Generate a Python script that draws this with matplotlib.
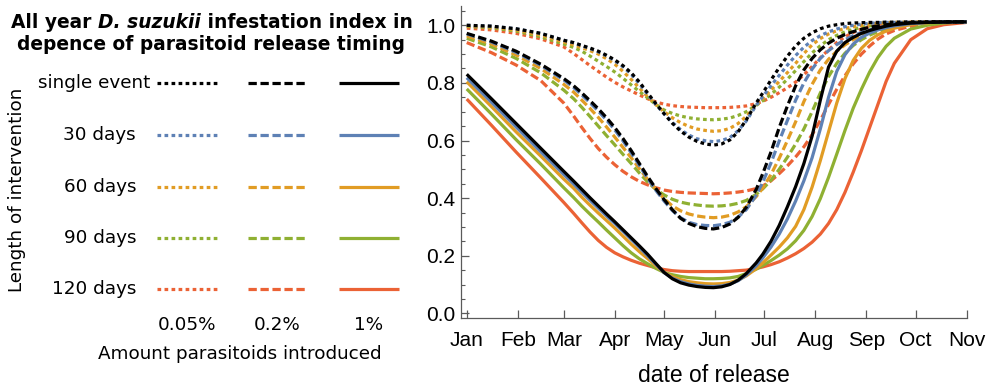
import matplotlib
matplotlib.use('Agg')
import matplotlib.pyplot as plt
from matplotlib.lines import Line2D

# ---------------- data ----------------
days = [0, 15, 30, 45, 59, 65, 70, 75, 80, 85, 90, 95, 100, 105, 110, 115, 120, 125, 130, 135,
        140, 145, 150, 155, 160, 165, 170, 176, 180, 185, 190, 195, 200, 205, 210, 215, 220, 225,
        230, 235, 240, 245, 250, 255, 260, 270, 280, 290, 304]

month_ticks = [0, 31, 59, 90, 120, 151, 181, 212, 243, 273, 304]
month_labels = ['Jan', 'Feb', 'Mar', 'Apr', 'May', 'Jun', 'Jul', 'Aug', 'Sep', 'Oct', 'Nov']

lengths = ['single event', '30 days', '60 days', '90 days', '120 days']
amounts = ['0.05%', '0.2%', '1%']
colors = ['#000000', '#5E81B5', '#E19C24', '#8FB032', '#EB6235']

# 1% (solid)
solid_single = [.830, .745, .659, .573, .493, .459, .430, .401, .373, .345, .318, .290, .262, .234, .205, .173, .142, .120, .106, .098,
                .093, .090, .089, .092, .100, .115, .138, .175, .205, .250, .305, .370, .440, .520, .615, .740, .855, .910,
                .940, .958, .972, .982, .990, .997, 1.002, 1.008, 1.010, 1.011, 1.012]
solid_30 = [.818, .733, .647, .561, .482, .449, .420, .392, .365, .338, .312, .285, .257, .229, .200, .170, .141, .122, .110, .102,
            .097, .094, .093, .095, .101, .113, .133, .165, .192, .230, .275, .328, .390, .460, .540, .640, .750, .840,
            .898, .935, .958, .973, .984, .992, .998, 1.006, 1.010, 1.011, 1.012]
solid_60 = [.804, .718, .630, .546, .466, .434, .403, .375, .348, .322, .296, .268, .240, .214, .190, .165, .142, .127, .117, .110,
            .106, .103, .102, .103, .107, .115, .130, .155, .175, .202, .230, .262, .302, .360, .438, .530, .630, .730,
            .815, .878, .920, .948, .967, .980, .990, 1.003, 1.009, 1.011, 1.012]
solid_90 = [.779, .692, .603, .518, .436, .402, .372, .344, .317, .289, .262, .235, .210, .189, .172, .156, .142, .134, .128, .124,
            .122, .120, .120, .121, .123, .128, .138, .153, .166, .183, .202, .224, .252, .288, .336, .398, .472, .553,
            .635, .712, .778, .838, .888, .927, .955, .987, 1.000, 1.008, 1.012]
solid_120 = [.744, .653, .560, .470, .385, .347, .314, .282, .253, .229, .210, .196, .184, .174, .166, .158, .152, .148, .146, .145,
             .145, .145, .145, .145, .146, .148, .150, .156, .161, .169, .179, .192, .207, .225, .247, .275, .312, .360,
             .420, .490, .565, .645, .725, .805, .868, .950, .988, 1.002, 1.010]

# 0.2% (dashed)
dash_single = [.972, .945, .910, .865, .815, .790, .765, .738, .710, .679, .645, .607, .565, .520, .475, .433, .395, .360, .330, .312,
               .301, .295, .293, .298, .310, .333, .368, .430, .485, .560, .645, .720, .790, .845, .885, .915, .938, .955,
               .968, .978, .986, .993, .998, 1.002, 1.005, 1.009, 1.011, 1.012, 1.012]
dash_30 = [.970, .942, .906, .861, .810, .784, .758, .731, .702, .671, .637, .599, .557, .513, .468, .427, .390, .357, .332, .316,
           .308, .305, .304, .308, .316, .334, .360, .410, .455, .522, .598, .670, .740, .800, .848, .885, .912, .933,
           .950, .964, .975, .984, .991, .997, 1.002, 1.008, 1.010, 1.011, 1.012]
dash_60 = [.963, .935, .897, .850, .795, .768, .740, .711, .680, .647, .612, .576, .540, .502, .465, .430, .398, .373, .356, .345,
           .338, .334, .332, .334, .340, .352, .370, .405, .435, .482, .538, .600, .665, .735, .795, .845, .882, .910,
           .932, .950, .965, .977, .986, .993, .998, 1.006, 1.010, 1.011, 1.012]
dash_90 = [.955, .925, .885, .835, .775, .745, .715, .683, .650, .617, .585, .552, .520, .487, .456, .430, .411, .396, .386, .380,
           .376, .373, .372, .373, .376, .382, .392, .413, .432, .462, .500, .542, .588, .640, .700, .765, .822, .868,
           .903, .930, .950, .966, .978, .987, .993, 1.003, 1.008, 1.011, 1.012]
dash_120 = [.940, .905, .862, .808, .730, .685, .645, .607, .572, .542, .516, .493, .474, .458, .446, .436, .428, .423, .420, .418,
            .417, .416, .415, .416, .418, .421, .425, .433, .442, .460, .485, .512, .543, .578, .620, .670, .725, .778,
            .825, .866, .900, .928, .952, .970, .982, .997, 1.006, 1.010, 1.012]

# 0.05% (dotted)
dot_single = [1.000, .997, .988, .972, .948, .940, .930, .921, .910, .896, .880, .860, .835, .803, .765, .728, .693, .660, .633, .612,
              .597, .588, .584, .588, .602, .630, .672, .730, .765, .810, .853, .893, .928, .955, .974, .988, .997, 1.002,
              1.006, 1.008, 1.009, 1.010, 1.010, 1.011, 1.011, 1.012, 1.012, 1.012, 1.012]
dot_30 = [1.000, .997, .988, .972, .948, .939, .929, .919, .908, .894, .877, .856, .830, .797, .760, .725, .693, .663, .638, .619,
          .606, .599, .596, .600, .610, .634, .668, .722, .752, .790, .826, .862, .895, .924, .947, .964, .977, .987,
          .995, 1.000, 1.004, 1.007, 1.009, 1.010, 1.010, 1.011, 1.012, 1.012, 1.012]
dot_60 = [.998, .994, .984, .966, .942, .932, .922, .912, .900, .884, .865, .840, .812, .782, .752, .724, .700, .679, .662, .649,
          .640, .635, .632, .634, .642, .659, .684, .722, .745, .775, .805, .836, .868, .902, .932, .954, .970, .981,
          .989, .995, 1.000, 1.004, 1.007, 1.009, 1.010, 1.011, 1.012, 1.012, 1.012]
dot_90 = [.996, .991, .980, .960, .935, .923, .910, .893, .875, .857, .838, .816, .793, .770, .748, .725, .706, .694, .685, .679,
          .675, .673, .672, .674, .678, .687, .700, .722, .738, .760, .785, .813, .843, .874, .904, .929, .950, .965,
          .977, .986, .993, .998, 1.002, 1.005, 1.008, 1.010, 1.011, 1.012, 1.012]
dot_120 = [.990, .984, .972, .953, .925, .902, .881, .860, .840, .820, .802, .786, .772, .758, .745, .734, .726, .721, .718, .716,
           .715, .714, .714, .714, .715, .717, .720, .728, .736, .750, .766, .783, .803, .828, .857, .887, .915, .940,
           .960, .975, .987, .995, 1.001, 1.005, 1.008, 1.010, 1.011, 1.012, 1.012]

series = {
    '0.05%': [dot_single, dot_30, dot_60, dot_90, dot_120],
    '0.2%': [dash_single, dash_30, dash_60, dash_90, dash_120],
    '1%': [solid_single, solid_30, solid_60, solid_90, solid_120],
}

# ---------------- styles ----------------
LW = 2.3
styles = {'0.05%': (0, (1.15, 1.05)), '0.2%': (0, (2.6, 1.15)), '1%': '-'}

W, H = 989, 386
fig = plt.figure(figsize=(W / 100, H / 100), dpi=100)

# ---------------- main axes ----------------
ax = fig.add_axes([461 / W, 1 - 318 / H, (967 - 461) / W, (318 - 6) / H])
for amt in amounts:
    for i in reversed(range(5)):
        ax.plot(days, series[amt][i], color=colors[i], lw=LW, linestyle=styles[amt],
                solid_capstyle='butt', dash_capstyle='butt', solid_joinstyle='round',
                zorder=3 + (4 - i) * 0.1)

ax.set_xlim(-3.5, 304.2)
ax.set_ylim(-0.0163, 1.067)
for s in ['top', 'right']:
    ax.spines[s].set_visible(False)
axcol = '#5a5a5a'
for s in ['left', 'bottom']:
    ax.spines[s].set_color(axcol)
    ax.spines[s].set_linewidth(0.9)
ax.set_xticks(month_ticks)
ax.set_xticklabels(month_labels)
ax.set_yticks([0, 0.2, 0.4, 0.6, 0.8, 1.0])
ax.set_yticklabels(['0.0', '0.2', '0.4', '0.6', '0.8', '1.0'])
ax.set_yticks([0.05, 0.1, 0.15, 0.25, 0.3, 0.35, 0.45, 0.5, 0.55, 0.65, 0.7, 0.75, 0.85, 0.9, 0.95, 1.05], minor=True)
ax.tick_params(axis='both', which='major', direction='in', length=5.5, width=0.9, color=axcol,
               labelsize=15, labelcolor='black')
ax.tick_params(axis='y', which='minor', direction='in', length=3, width=0.8, color=axcol)
ax.tick_params(axis='x', pad=9)
ax.tick_params(axis='y', pad=4)
for lab in ax.get_xticklabels() + ax.get_yticklabels():
    lab.set_fontfamily('Liberation Sans')
ax.set_xlabel('date of release', fontsize=16.5, fontfamily='Liberation Sans', color='black')
ax.xaxis.set_label_coords(0.5, -(375 - 318) / (318 - 6))
ax.xaxis.label.set_va('center')

# ---------------- left legend panel ----------------
lx = fig.add_axes([0, 0, 1, 1], zorder=-1)
lx.set_xlim(0, W)
lx.set_ylim(H, 0)
lx.axis('off')

FS = 13.2
row_y = [83, 135, 186.7, 238.3, 289.3]
row_right = [150, 136, 136, 136, 136]
col_x = [(157, 217), (248, 307), (339, 399)]
for i, lab in enumerate(lengths):
    lx.text(row_right[i], row_y[i], lab, ha='right', va='center', fontsize=FS, fontfamily='DejaVu Sans')
    for j, amt in enumerate(amounts):
        lx.add_line(Line2D(col_x[j], [row_y[i], row_y[i]], color=colors[i], lw=LW,
                           linestyle=styles[amt], solid_capstyle='butt', dash_capstyle='butt'))
for j, amt in enumerate(amounts):
    lx.text((col_x[j][0] + col_x[j][1]) / 2, 325, amt, ha='center', va='center', fontsize=FS,
            fontfamily='DejaVu Sans')
lx.text(240, 354, 'Amount parasitoids introduced', ha='center', va='center', fontsize=FS,
        fontfamily='DejaVu Sans')
lx.text(17, 190, 'Length of intervention', ha='center', va='center', rotation=90, fontsize=FS,
        fontfamily='DejaVu Sans')

# title with mixed styles
TFS = 13.4
renderer = fig.canvas.get_renderer()


def rich_line(pieces, xc, y):
    objs = []
    for txt, style in pieces:
        t = lx.text(0, y, txt, ha='left', va='center', fontsize=TFS, fontweight='bold',
                    fontstyle=style, fontfamily='DejaVu Sans')
        objs.append(t)
    widths = [o.get_window_extent(renderer).width for o in objs]
    x = xc - sum(widths) / 2
    for o, w in zip(objs, widths):
        o.set_x(x)
        x += w


rich_line([('All year ', 'normal'), ('D. suzukii', 'italic'), (' infestation index in', 'normal')], 212, 23)
rich_line([('depence of parasitoid release timing', 'normal')], 211, 45)

fig.savefig('out.png', dpi=100)
